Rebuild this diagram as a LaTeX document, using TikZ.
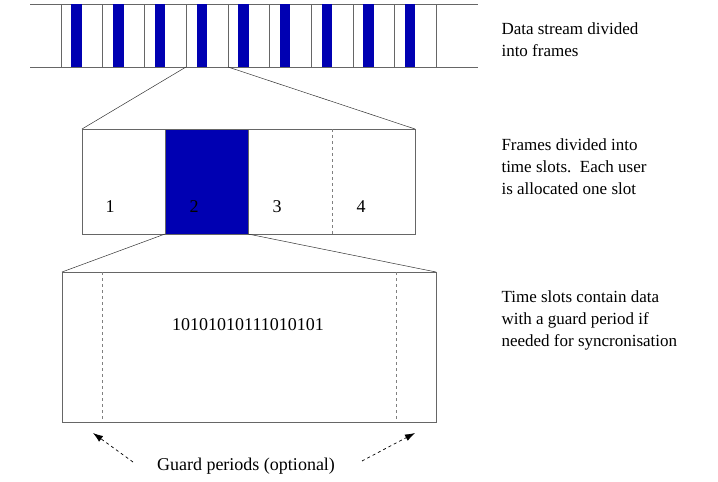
\documentclass[tikz,border=0pt]{standalone}
\usepackage{fontspec}
\setmainfont{Liberation Serif}
\usetikzlibrary{arrows.meta}
\begin{document}
\begin{tikzpicture}[
    x=1pt, y=-1pt,
    font=\fontsize{18}{21}\selectfont,
    >=latex,
    % styles
    frameline/.style={draw=gray!80!black, line width=0.6pt},
    slotbox/.style={draw=gray!80!black, line width=0.6pt},
    userslot/.style={fill=blue!70!black, draw=gray!80!black, line width=0.6pt},
    guard/.style={draw=gray, dashed, line width=0.6pt},
    zoomline/.style={draw=black!80, line width=0.5pt},
    note/.style={anchor=west, align=left, font=\fontsize{17}{22}\selectfont},
    pointer/.style={-{Latex[length=10pt,width=7pt]}, dashed, line width=0.7pt}
]
\useasboundingbox (0,0) rectangle (718,482);

% --- data stream ---
\draw[frameline] (30,4) -- (478,4);
\draw[frameline] (30,67) -- (478,67);
\foreach \i in {0,...,9} {
    \pgfmathsetmacro{\fx}{61+41.7*\i}
    \draw[frameline] (\fx,4) -- (\fx,67);
}
\foreach \i in {0,...,8} {
    \pgfmathsetmacro{\fx}{61+41.7*\i}
    \fill[blue!70!black] (\fx+10.4,4) rectangle (\fx+20.8,67);
}
\coordinate (fl) at (186,67);
\coordinate (fr) at (228,67);

% --- one frame, four slots ---
\draw[slotbox] (82,129) rectangle (415,234);
\draw[userslot] (165,129) rectangle (248,234);
\draw[guard] (332,129) -- (332,234);
\node (s1) at (110,207) {1};
\node (s2) at (194,207) {2};
\node (s3) at (277,207) {3};
\node (s4) at (361,207) {4};
\coordinate (ml) at (82,129);
\coordinate (mr) at (415,129);
\coordinate (ul) at (165,234);
\coordinate (ur) at (248,234);
\draw[zoomline] (fl) -- (ml);
\draw[zoomline] (fr) -- (mr);

% --- one slot ---
\draw[slotbox] (62,272) rectangle (436,422);
\draw[guard] (102,272) -- (102,422);
\draw[guard] (396,272) -- (396,422);
\coordinate (bl) at (62,272);
\coordinate (br) at (436,272);
\draw[zoomline] (ul) -- (bl);
\draw[zoomline] (ur) -- (br);
\node (bits) at (248,325) {10101010111010101};

% guard periods
\node (gp) at (246,466) {Guard periods (optional)};
\coordinate (gpl) at (133,462);
\coordinate (gpr) at (362,461);
\coordinate (gl) at (93,433);
\coordinate (gr) at (415,433);
\draw[pointer] (gpl) -- (gl);
\draw[pointer] (gpr) -- (gr);

% --- notes ---
\node[note] (n1) at (498,40) {Data stream divided\\into frames};
\node[note] (n2) at (498,167) {Frames divided into\\time slots.\ \ Each user\\is allocated one slot};
\node[note] (n3) at (498,320) {Time slots contain data\\with a guard period if\\needed for syncronisation};
\end{tikzpicture}
\end{document}
